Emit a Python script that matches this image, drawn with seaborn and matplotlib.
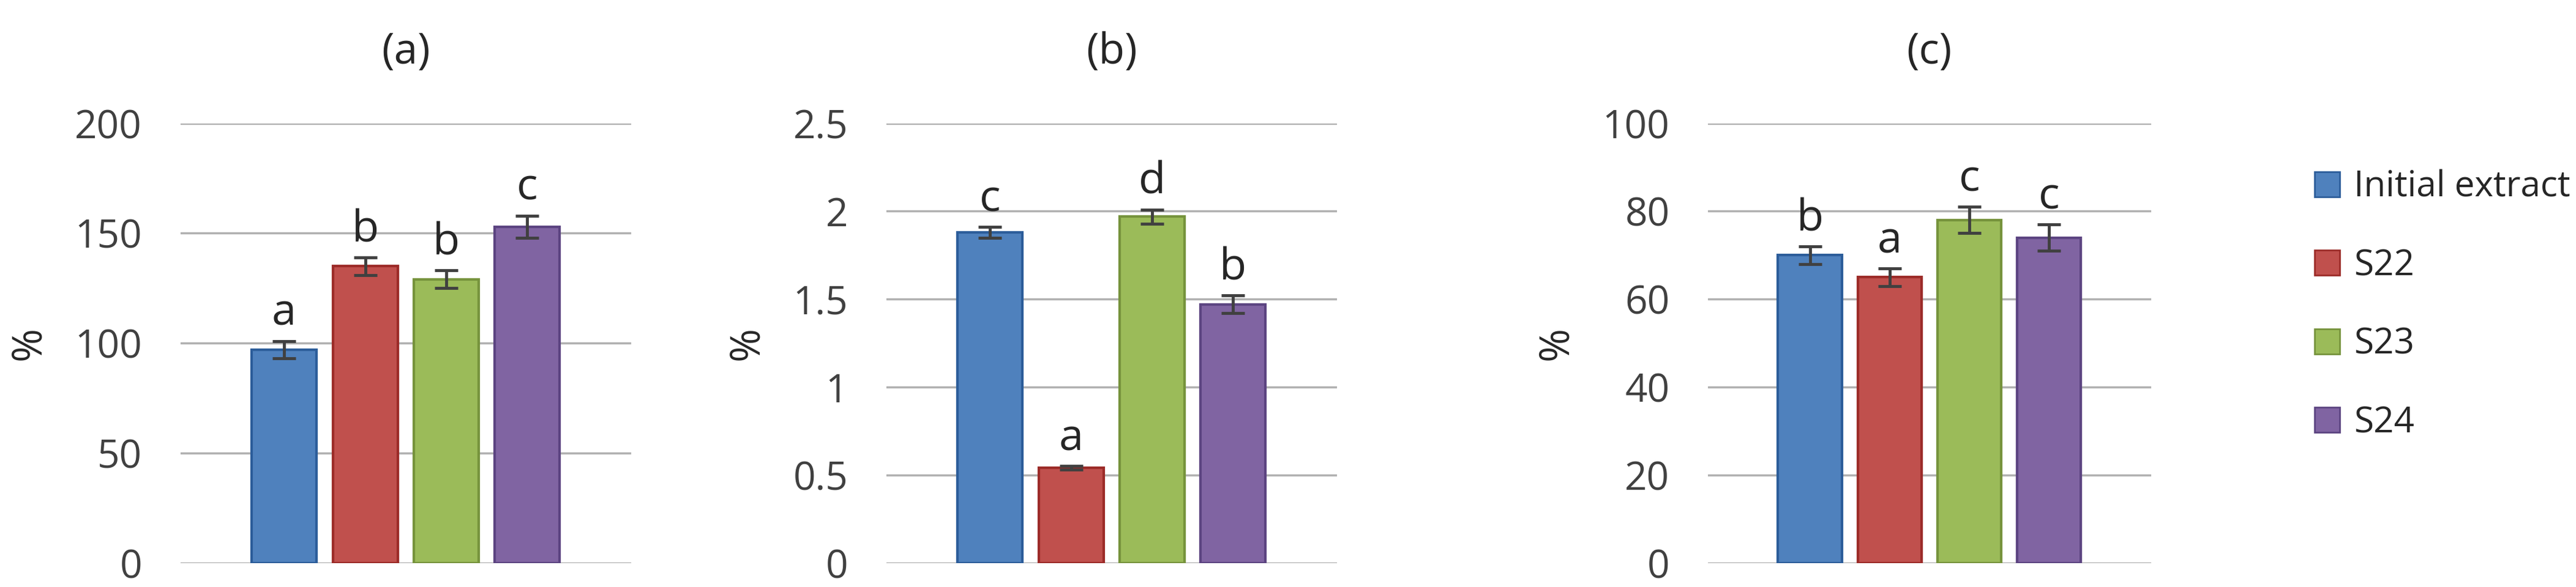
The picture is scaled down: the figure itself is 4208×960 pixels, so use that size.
import pandas as pd
import matplotlib.pyplot as plt
import seaborn as sns
from matplotlib.patches import Patch

groups = ['Initial extract', 'S22', 'S23', 'S24']
colors = ['#4f81bd', '#c0504d', '#9bbb59', '#8064a2']
edges = ['#2c5d9a', '#9c2b28', '#76933c', '#5c4481']

vals_a = [97, 135, 129, 153]
err_a = [4, 4, 4, 5]
let_a = ['a', 'b', 'b', 'c']
vals_b = [1.88, 0.54, 1.97, 1.47]
err_b = [0.03, 0.01, 0.04, 0.05]
let_b = ['c', 'a', 'd', 'b']
vals_c = [70, 65, 78, 74]
err_c = [2, 2, 3, 3]
let_c = ['b', 'a', 'c', 'c']

panels = [
    ('(a)', vals_a, err_a, let_a, 200, 50),
    ('(b)', vals_b, err_b, let_b, 2.5, 0.5),
    ('(c)', vals_c, err_c, let_c, 100, 20),
]
lefts = [0.070, 0.344, 0.663]
widths = [0.175, 0.175, 0.172]

sns.set_style('white')
plt.rcParams['font.family'] = ['Open Sans', 'DejaVu Sans']

fig = plt.figure(figsize=(42.08, 9.6), dpi=100)
for (title, vals, errs, lets, ymax, step), l, w in zip(panels, lefts, widths):
    ax = fig.add_axes([l, 0.041, w, 0.749])
    df = pd.DataFrame({'group': groups, 'value': vals})
    sns.barplot(data=df, x='group', y='value', hue='group', palette=colors,
                saturation=1, width=0.8, legend=False, ax=ax, zorder=3)
    for p, ec in zip(ax.patches, edges):
        p.set_edgecolor(ec)
        p.set_linewidth(3)
    ax.errorbar(range(4), vals, yerr=errs, fmt='none', ecolor='#404040',
                elinewidth=3.5, capsize=14, capthick=3.5, zorder=4)
    for i, (v, e, t) in enumerate(zip(vals, errs, lets)):
        ax.text(i, v + e + ymax * 0.012, t, ha='center', va='bottom', fontsize=52)
    ax.set_ylim(0, ymax)
    ticks = [k * step for k in range(int(round(ymax / step)) + 1)]
    ax.set_yticks(ticks)
    ax.set_yticklabels([f'{t:g}' for t in ticks], fontsize=46, color='#404040')
    ax.set_xlim(1.5 - 2.78, 1.5 + 2.78)
    ax.set_xticks([])
    ax.set_xlabel('')
    ax.set_ylabel('%', fontsize=48, labelpad=30)
    ax.yaxis.grid(True, color='#b0b0b0', linewidth=2.5, zorder=0)
    ax.tick_params(axis='y', length=0, pad=45)
    for s in ax.spines.values():
        s.set_visible(False)
    ax.set_title(title, fontsize=50, pad=70)

handles = [Patch(facecolor=c, edgecolor=e, linewidth=2) for c, e in zip(colors, edges)]
fig.legend(handles, groups, loc='center left', bbox_to_anchor=(0.893, 0.48),
           frameon=False, fontsize=42, handlelength=0.7, handleheight=0.7,
           labelspacing=1.2, handletextpad=0.4, borderaxespad=0)
fig.savefig('out.png', dpi=100)
